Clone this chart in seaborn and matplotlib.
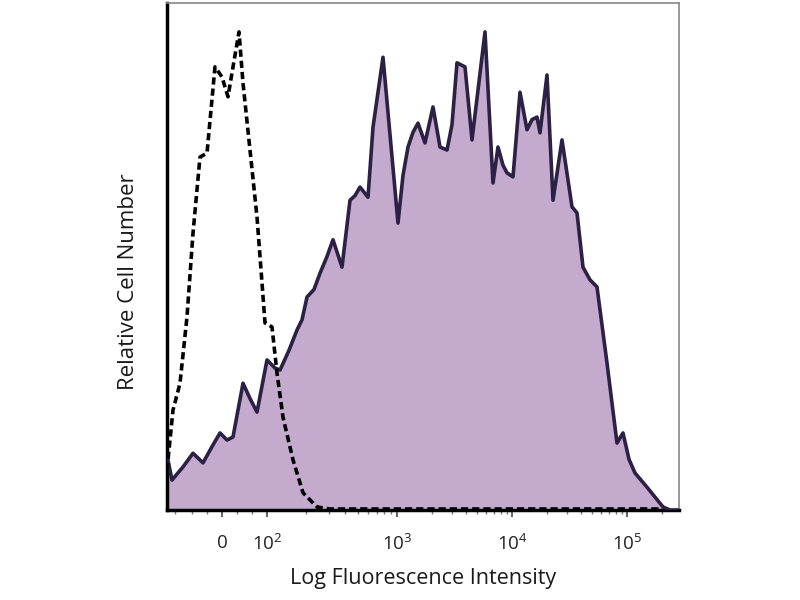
import numpy as np
import pandas as pd
import matplotlib
matplotlib.use("Agg")
import matplotlib.pyplot as plt
import seaborn as sns

# Stained sample (filled histogram): x in display channels, y relative count (%)
stained_x = [0, 5, 16, 26, 36, 45, 53, 60, 66, 76, 83, 90, 100, 108, 113, 122, 130, 135, 140,
             147, 153, 160, 166, 175, 183, 188, 193, 201, 206, 216, 231, 236, 241, 246, 251,
             258, 266, 273, 280, 285, 290, 298, 305, 318, 326, 331, 336, 340, 346, 353, 360,
             365, 370, 373, 380, 386, 395, 405, 410, 416, 423, 430, 440, 450, 456, 462, 468,
             480, 496, 503, 512]
stained_y = [10.8, 5.9, 8.5, 11.2, 9.3, 12.5, 15.2, 13.8, 14.4, 25.0, 22.0, 19.3, 29.6, 28.0,
             27.6, 31.5, 35.5, 37.5, 42.0, 43.5, 46.7, 50.0, 53.3, 47.9, 61.1, 62.0, 63.7, 61.7,
             75.5, 89.3, 56.6, 66.0, 71.6, 74.5, 76.3, 72.4, 79.5, 71.6, 71.0, 76.0, 88.2, 87.4,
             73.0, 94.3, 64.5, 71.6, 68.0, 66.5, 65.7, 82.4, 75.0, 77.0, 77.5, 74.4, 85.8, 61.1,
             73.0, 59.8, 58.6, 47.9, 45.4, 44.0, 29.0, 13.2, 15.2, 10.0, 7.3, 4.5, 0.6, 0.0, 0.0]

# Isotype control (dashed)
control_x = [0, 6, 13, 20, 26, 33, 40, 48, 55, 61, 66, 72, 76, 83, 90, 95, 98, 105, 110, 116,
             126, 136, 150, 163, 493]
control_y = [7.9, 19.7, 25.0, 38.1, 54.6, 69.6, 70.4, 87.4, 85.4, 81.5, 87.4, 94.3, 84.2, 71.0,
             57.8, 44.8, 36.9, 36.1, 27.0, 18.3, 9.9, 3.4, 0.6, 0.2, 0.2]

tick_pos = [55, 100, 230, 345, 460]
tick_labels = [r"$\mathregular{0}$", r"$\mathregular{10^2}$", r"$\mathregular{10^3}$",
               r"$\mathregular{10^4}$", r"$\mathregular{10^5}$"]

sns.set_style("white")
plt.rcParams['font.family'] = ['Open Sans', 'DejaVu Sans']

fig = plt.figure(figsize=(8, 6), dpi=100)
ax = fig.add_axes([167/800, 1 - 510/600, 512/800, 507/600])

df_s = pd.DataFrame({"x": stained_x, "y": stained_y})
df_c = pd.DataFrame({"x": control_x, "y": control_y})

ax.fill_between(df_s["x"], df_s["y"], 0, color="#c4aacd", linewidth=0, zorder=1)
sns.lineplot(data=df_s, x="x", y="y", ax=ax, color="#2b2145", linewidth=2.6,
             sort=False, estimator=None, zorder=3)
sns.lineplot(data=df_c, x="x", y="y", ax=ax, color="black", linewidth=2.6,
             sort=False, estimator=None, zorder=4)
ax.lines[-1].set_linestyle((0, (2.0, 1.1)))

ax.set_xlim(0, 512)
ax.set_ylim(0, 100)
ax.set_yticks([])

# minor ticks (log-spaced within decades)
minor = []
for k in range(2, 10):
    minor.append(100 + 130 * np.log10(k))
    minor.append(230 + 115 * np.log10(k))
    minor.append(345 + 115 * np.log10(k))
    minor.append(460 + 115 * np.log10(k))
minor += [8, 25, 40, 70, 85]
minor = [m for m in minor if m <= 512]
ax.set_xticks(minor, minor=True)
ax.set_xticks(tick_pos)
ax.set_xticklabels(tick_labels, fontsize=13.5, color="#222222")
ax.tick_params(axis="x", which="major", direction="out", length=5, width=1.3,
               color="#555555", bottom=True, pad=12)
ax.tick_params(axis="x", which="minor", direction="out", length=3, width=1.0,
               color="#777777", bottom=True)

for side in ["left", "bottom"]:
    ax.spines[side].set_linewidth(2.5)
    ax.spines[side].set_color("black")
for side in ["top", "right"]:
    ax.spines[side].set_linewidth(1.2)
    ax.spines[side].set_color("#888888")

ax.set_xlabel("Log Fluorescence Intensity", fontsize=15.5, color="#1a1a1a")
ax.xaxis.set_label_coords(0.5, -0.115)
ax.set_ylabel("Relative Cell Number", fontsize=16, color="#1a1a1a")
ax.yaxis.set_label_coords(-0.055, 0.45)

fig.savefig("out.png", dpi=100)
